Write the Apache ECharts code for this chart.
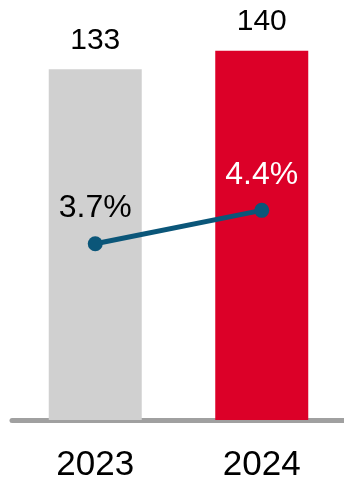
<!DOCTYPE html>
<html>
<head>
<meta charset="utf-8">
<script src="https://cdn.jsdelivr.net/npm/echarts@6/dist/echarts.min.js"></script>
<style>
  html, body { margin: 0; padding: 0; background: #ffffff; }
  #chart { width: 344px; height: 480px; }
</style>
</head>
<body>
<div id="chart"></div>
<script>
// Years on the category axis
const years = ['2023', '2024'];
// Bar values (absolute)
const amounts = [133, 140];
// Growth rate in percent, plotted on the secondary axis
const rates = [3.7, 4.4];
// Bar fill per year
const barColors = ['#d0d0d0', '#dc0028'];
// Rate label colour per year (white where it sits on the red bar)
const rateLabelColors = ['#000000', '#ffffff'];

const FONT = 'Liberation Sans, Arial, sans-serif';

const chart = echarts.init(document.getElementById('chart'), null, { renderer: 'canvas' });

chart.setOption({
  animation: false,
  backgroundColor: '#ffffff',
  // fixed plot area; labels may sit near the bottom edge
  grid: { left: 12, right: -1, top: 24.5, bottom: 60, containLabel: false, outerBoundsMode: 'none' },
  xAxis: {
    type: 'category',
    data: years,
    axisTick: { show: false },
    axisLine: { show: true, lineStyle: { color: '#a0a0a0', width: 5 } },
    axisLabel: { color: '#000000', fontSize: 35, fontFamily: FONT, margin: 28 }
  },
  yAxis: [
    { type: 'value', min: 0, max: 150, show: false },
    { type: 'value', min: 0, max: 8.3, show: false }
  ],
  series: [
    {
      type: 'bar',
      yAxisIndex: 0,
      barWidth: 93,
      data: amounts.map((v, i) => ({ value: v, itemStyle: { color: barColors[i] } })),
      label: {
        show: true,
        position: 'top',
        distance: 14,
        color: '#000000',
        fontSize: 30,
        fontFamily: FONT
      },
      z: 1
    },
    {
      type: 'line',
      yAxisIndex: 1,
      data: rates.map((v, i) => ({
        value: v,
        label: { color: rateLabelColors[i] }
      })),
      symbol: 'circle',
      symbolSize: 15,
      lineStyle: { color: '#0b5679', width: 5 },
      itemStyle: { color: '#0b5679' },
      label: {
        show: true,
        position: 'top',
        distance: 12,
        fontSize: 32,
        fontFamily: FONT,
        formatter: p => p.value.toFixed(1) + '%'
      },
      z: 3
    }
  ]
});
</script>
</body>
</html>
